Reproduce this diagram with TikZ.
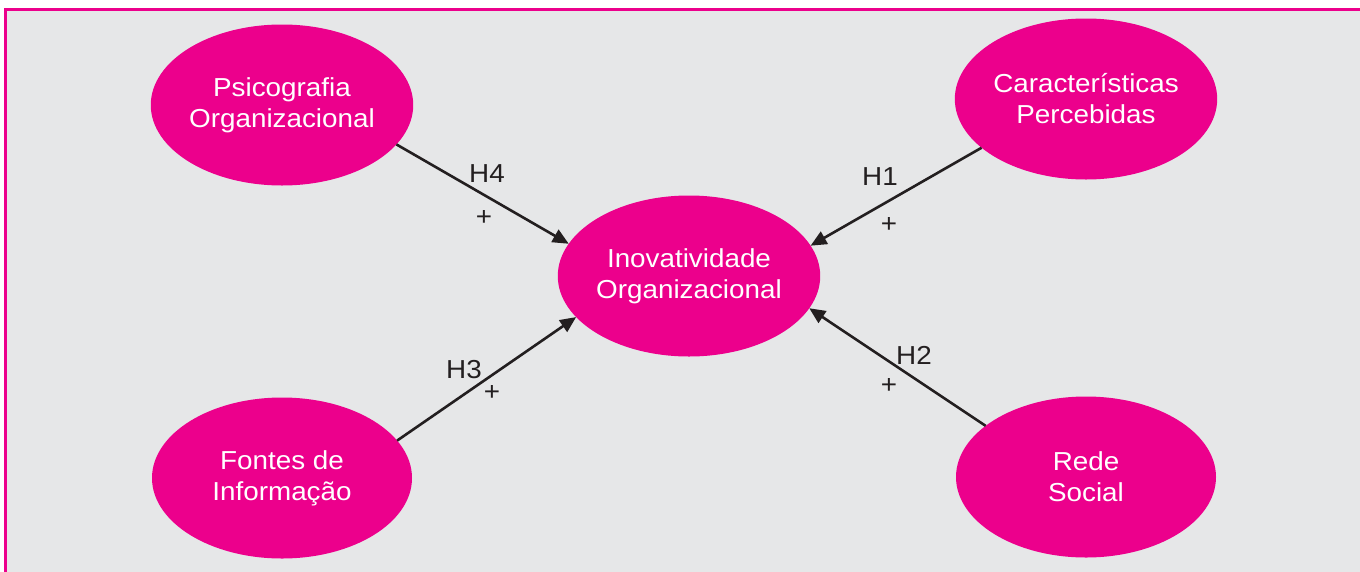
\documentclass[tikz,border=0pt]{standalone}
\usepackage{fontspec}
\setmainfont{Liberation Sans}[FakeStretch=1.07]
\usetikzlibrary{shapes.geometric,arrows.meta}
\definecolor{mag}{HTML}{EC008C}
\definecolor{bg}{HTML}{E6E7E8}
\definecolor{ink}{HTML}{231F20}
\begin{document}
\begin{tikzpicture}[x=1pt,y=-1pt,
  oval/.style={ellipse,fill=mag,draw=none,minimum width=260pt,minimum height=161pt,
    inner sep=0pt,outer sep=0pt,align=center,text=white,
    font=\fontsize{26}{31}\selectfont},
  hyp/.style={text=ink,font=\fontsize{26}{31}\selectfont,inner sep=0pt},
  link/.style={draw=ink,line width=2.6pt,-{Triangle[length=16pt,width=14pt]}}]
\useasboundingbox (0,0) rectangle (1360,571);
\clip (0,0) rectangle (1360,571);
\fill[white] (0,0) rectangle (1360,571);
\draw[mag,line width=3pt,fill=bg] (5.5,9.5) rectangle (1375,590);
\node[oval] (psi) at (282,105) {Psicografia\\Organizacional};
\node[oval] (car) at (1086,99) {Características\\Percebidas};
\node[oval] (ino) at (689,276) {Inovatividade\\Organizacional};
\node[oval] (fon) at (282,478) {Fontes de\\Informação};
\node[oval] (red) at (1086,477) {Rede\\Social};
\draw[link] (psi.-19.5) -- (ino.165.3);
\draw[link] (car.205) -- (ino.14.7);
\draw[link] (fon.18.3) -- (ino.200);
\draw[link] (red.153.9) -- (ino.-15);
\node[hyp] (h4) at (487,174) {H4};
\node[hyp] (p4) at (484,218) {+};
\node[hyp] (h1) at (880,177) {H1};
\node[hyp] (p1) at (889,225) {+};
\node[hyp] (h3) at (464,370) {H3};
\node[hyp] (p3) at (492,393) {+};
\node[hyp] (h2) at (914,355) {H2};
\node[hyp] (p2) at (889,386) {+};
\end{tikzpicture}
\end{document}
